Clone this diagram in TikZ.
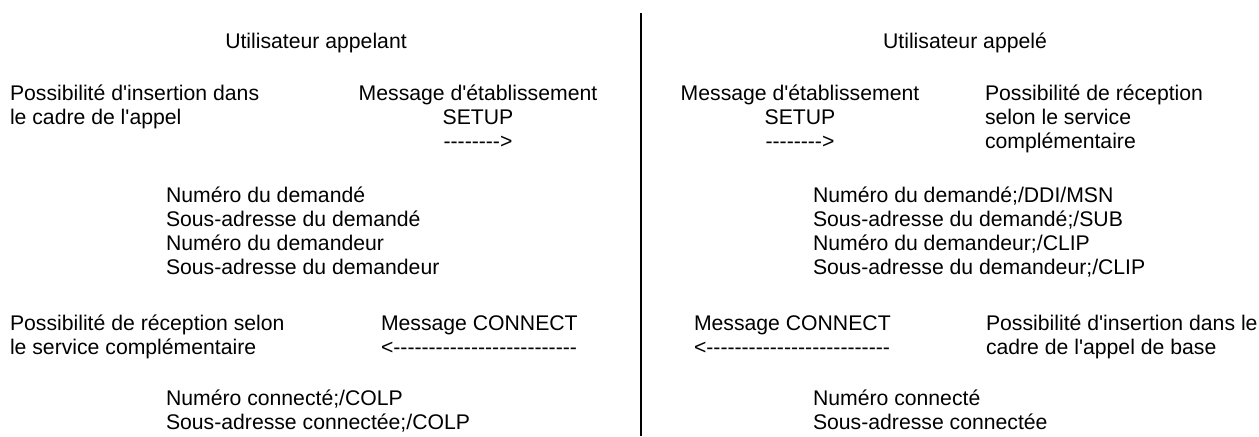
\documentclass[tikz,border=0pt]{standalone}
\usepackage{fontspec}
\setmainfont{Liberation Sans}[Ligatures=TeXOff]
\usetikzlibrary{positioning}
\begin{document}
\begin{tikzpicture}[x=0.75pt,y=-0.75pt,node distance=0pt]

		% Styles for the texts
		\tikzstyle{txt}=[inner sep=0pt,outer sep=0pt,font=\fontsize{15.9pt}{18pt}\selectfont,text height=13.5pt,text depth=4.5pt,anchor=north west]
		\tikzstyle{ctxt}=[txt,anchor=north]
		\tikzstyle{sep}=[line width=1.5pt]

		\useasboundingbox (0,0) rectangle (1259,436);

		% Separation between the two users
		\coordinate (top) at (641,13);
		\coordinate (bot) at (641,436);
		\draw[sep] (top) -- (bot);

		% Calling user
		\node[ctxt] (userA) at (316,30) {Utilisateur appelant};

		\node[txt] (posA1) at (10,82) {Possibilité d'insertion dans};
		\node[txt,below=of posA1.south west,anchor=north west] (posA2) {le cadre de l'appel};

		\node[ctxt] (msgA) at (478,82) {Message d'établissement};
		\node[ctxt,below=of msgA] (setupA) {SETUP};
		\node[ctxt,below=of setupA] (arrA) {-------->};

		\node[txt] (listA1) at (166,184) {Numéro du demandé};
		\node[txt,below=of listA1.south west,anchor=north west] (listA2) {Sous-adresse du demandé};
		\node[txt,below=of listA2.south west,anchor=north west] (listA3) {Numéro du demandeur};
		\node[txt,below=of listA3.south west,anchor=north west] (listA4) {Sous-adresse du demandeur};

		\node[txt] (recA1) at (10,312) {Possibilité de réception selon};
		\node[txt,below=of recA1.south west,anchor=north west] (recA2) {le service complémentaire};

		\node[txt] (conA) at (381,312) {Message CONNECT};
		\node[txt,below=of conA.south west,anchor=north west] (arrcA) {<--------------------------};

		\node[txt] (colpA1) at (166,387) {Numéro connecté;/COLP};
		\node[txt,below=of colpA1.south west,anchor=north west] (colpA2) {Sous-adresse connectée;/COLP};

		% Called user
		\node[ctxt] (userB) at (965,30) {Utilisateur appelé};

		\node[ctxt] (msgB) at (800,82) {Message d'établissement};
		\node[ctxt,below=of msgB] (setupB) {SETUP};
		\node[ctxt,below=of setupB] (arrB) {-------->};

		\node[txt] (recB1) at (985,82) {Possibilité de réception};
		\node[txt,below=of recB1.south west,anchor=north west] (recB2) {selon le service};
		\node[txt,below=of recB2.south west,anchor=north west] (recB3) {complémentaire};

		\node[txt] (listB1) at (813,184) {Numéro du demandé;/DDI/MSN};
		\node[txt,below=of listB1.south west,anchor=north west] (listB2) {Sous-adresse du demandé;/SUB};
		\node[txt,below=of listB2.south west,anchor=north west] (listB3) {Numéro du demandeur;/CLIP};
		\node[txt,below=of listB3.south west,anchor=north west] (listB4) {Sous-adresse du demandeur;/CLIP};

		\node[txt] (conB) at (694,312) {Message CONNECT};
		\node[txt,below=of conB.south west,anchor=north west] (arrcB) {<--------------------------};

		\node[txt] (insB1) at (986,312) {Possibilité d'insertion dans le};
		\node[txt,below=of insB1.south west,anchor=north west] (insB2) {cadre de l'appel de base};

		\node[txt] (connB1) at (813,387) {Numéro connecté};
		\node[txt,below=of connB1.south west,anchor=north west] (connB2) {Sous-adresse connectée};

	\end{tikzpicture}
\end{document}
